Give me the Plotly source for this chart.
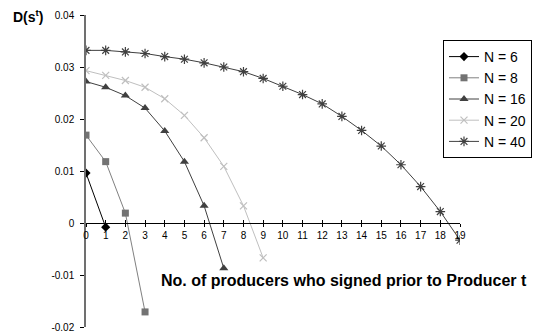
import plotly.graph_objects as go

x6 = [0, 1]
y6 = [0.0096, -0.0008]
x8 = [0, 1, 2, 3]
y8 = [0.0169, 0.0118, 0.0019, -0.0171]
x16 = [0, 1, 2, 3, 4, 5, 6, 7]
y16 = [0.0272, 0.0261, 0.0245, 0.0221, 0.0177, 0.0118, 0.0033, -0.0087]
x20 = [0, 1, 2, 3, 4, 5, 6, 7, 8, 9]
y20 = [0.0293, 0.0284, 0.0274, 0.0261, 0.0239, 0.0207, 0.0164, 0.0109, 0.0033, -0.0067]
x40 = list(range(20))
y40 = [0.0332, 0.0332, 0.0329, 0.0326, 0.0320, 0.0315, 0.0308, 0.0300, 0.0291, 0.0278,
       0.0263, 0.0247, 0.0229, 0.0205, 0.0178, 0.0148, 0.0112, 0.0070, 0.0022, -0.0033]

names = ["N = 6", "N = 8", "N = 16", "N = 20", "N = 40"]
xticks = list(range(20))
yticks = [-0.02, -0.01, 0, 0.01, 0.02, 0.03, 0.04]
yticklabels = ["-0.02", "-0.01", "0", "0.01", "0.02", "0.03", "0.04"]

fig = go.Figure()
fig.add_trace(go.Scatter(x=x6, y=y6, name=names[0], mode="lines+markers",
                         line=dict(color="#000000", width=1),
                         marker=dict(symbol="diamond", size=7, color="#000000")))
fig.add_trace(go.Scatter(x=x8, y=y8, name=names[1], mode="lines+markers",
                         line=dict(color="#808080", width=1),
                         marker=dict(symbol="square", size=7, color="#737373")))
fig.add_trace(go.Scatter(x=x16, y=y16, name=names[2], mode="lines+markers",
                         line=dict(color="#404040", width=1),
                         marker=dict(symbol="triangle-up", size=8, color="#404040")))
fig.add_trace(go.Scatter(x=x20, y=y20, name=names[3], mode="lines+markers",
                         line=dict(color="#bfbfbf", width=1),
                         marker=dict(symbol="x-thin-open", size=7, color="#bfbfbf",
                                     line=dict(color="#bfbfbf", width=1.2))))
fig.add_trace(go.Scatter(x=x40, y=y40, name=names[4], mode="lines+markers",
                         line=dict(color="#404040", width=1),
                         marker=dict(symbol="asterisk-open", size=8, color="#404040",
                                     line=dict(color="#404040", width=1.2))))

# invisible trace on second x-axis for crossing tick marks
fig.add_trace(go.Scatter(x=[0, 19], y=[None, None], xaxis="x2", showlegend=False,
                         hoverinfo="skip"))

fig.update_layout(
    width=536, height=336,
    margin=dict(l=86, r=76, t=15, b=9, autoexpand=False),
    paper_bgcolor="white", plot_bgcolor="white",
    font=dict(family="Liberation Sans, Arial, sans-serif", color="#000000"),
    xaxis=dict(range=[0, 19], anchor="free", position=1/3, showgrid=False, zeroline=False,
               showline=True, linecolor="#000000", linewidth=1, automargin=False,
               ticks="outside", ticklen=3, tickcolor="#000000",
               tickvals=xticks, ticktext=[str(v) for v in xticks],
               tickfont=dict(size=10), ticklabelstandoff=0),
    xaxis2=dict(range=[0, 19], overlaying="x", anchor="free", position=1/3,
                showgrid=False, zeroline=False, showline=False, automargin=False,
                ticks="inside", ticklen=3, tickcolor="#000000",
                tickvals=xticks, showticklabels=False, side="bottom"),
    yaxis=dict(range=[-0.02, 0.04], showgrid=False, zeroline=False, automargin=False,
               showline=True, linecolor="#707070", linewidth=1.5,
               ticks="outside", ticklen=4, tickcolor="#000000",
               tickvals=yticks, ticktext=yticklabels, tickfont=dict(size=10),
               ticklabelstandoff=4),
    legend=dict(x=(443 - 86) / 374, xanchor="left", y=1 - (40 - 15) / 312, yanchor="top",
                bgcolor="white", bordercolor="#000000", borderwidth=1,
                font=dict(size=14), tracegroupgap=0, itemwidth=30),
    showlegend=True,
)

fig.add_annotation(text="<b>D(s<sup>t</sup>)</b>", xref="paper", yref="paper",
                   x=-(86 - 11) / 374, y=1 - (16 - 15) / 312, xanchor="left", yanchor="middle",
                   showarrow=False, font=dict(size=14))
fig.add_annotation(text="<b>No. of producers who signed prior to Producer t</b>",
                   xref="paper", yref="paper", x=(344 - 86) / 374, y=(327 - 280) / 312,
                   xanchor="center", yanchor="middle", showarrow=False, font=dict(size=16))

fig.write_html("out.html", config={"displayModeBar": False},
               post_script="document.body.style.margin='0';document.body.style.overflow='hidden';")
